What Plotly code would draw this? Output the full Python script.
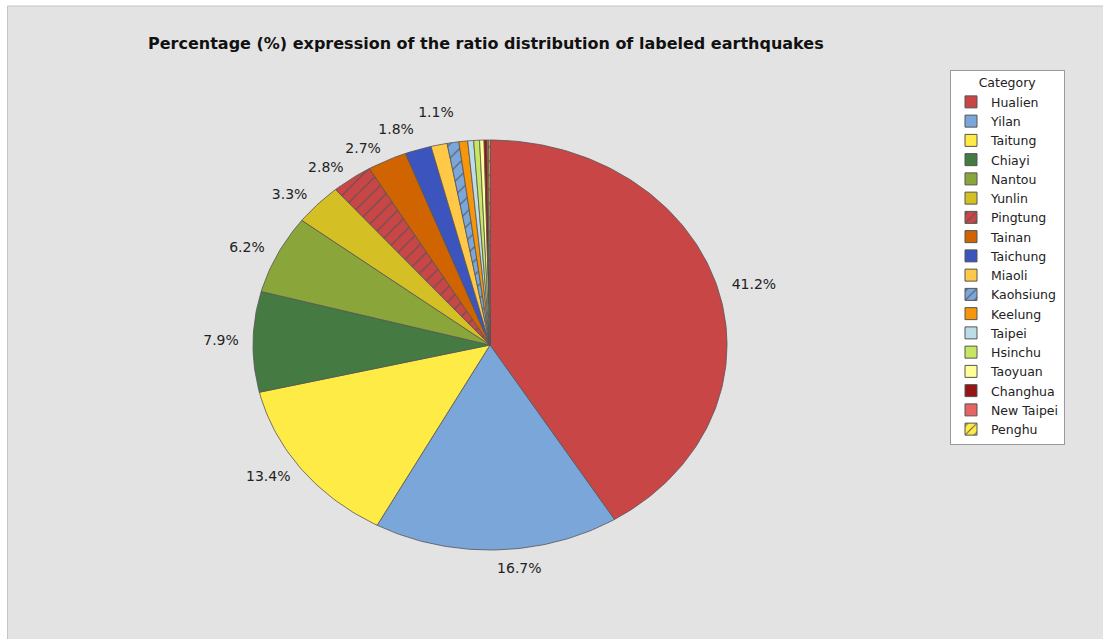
import numpy as np
import plotly.graph_objects as go

# Share of labeled earthquakes by county/city (%)
categories = ["Hualien", "Yilan", "Taitung", "Chiayi", "Nantou", "Yunlin", "Pingtung",
              "Tainan", "Taichung", "Miaoli", "Kaohsiung", "Keelung", "Taipei", "Hsinchu",
              "Taoyuan", "Changhua", "New Taipei", "Penghu"]
percentages = [41.2, 16.7, 13.4, 7.9, 6.2, 3.3, 2.8, 2.7, 1.8, 1.1,
               0.8, 0.6, 0.4, 0.4, 0.3, 0.2, 0.1, 0.1]
slice_colors = ["#c84646", "#7ba6d9", "#ffeb46", "#457a43", "#8aa63a", "#d4c024", "#c84646",
                "#cf6400", "#3c55be", "#ffc846", "#7ba6d9", "#f7960a", "#bcdce6", "#c8e664",
                "#ffff96", "#961414", "#e66464", "#ffeb46"]
hatched = ["Pingtung", "Kaohsiung", "Penghu"]
label_min = 1.0  # slices below this share are left unlabeled

W, H = 1103, 639
# pie centre (px from left / top) and its horizontal / vertical radius in px
cx, cy, rx, ry = 490, 345, 237, 205
edge = "#555555"
label_font = 14
label_h = 17  # approximate label box height in px

fig = go.Figure()

values = np.array(percentages, dtype=float)
bounds = np.concatenate([[0.0], np.cumsum(values)]) / values.sum() * 2 * np.pi

label_x, label_y, label_txt, label_pos = [], [], [], []
placed = []  # label boxes in px: (x0, x1, y0, y1), y measured upward from centre
for i, name in enumerate(categories):
    a0, a1 = bounds[i], bounds[i + 1]
    n = max(3, int(np.ceil((a1 - a0) / (2 * np.pi) * 360)))
    t = np.linspace(a0, a1, n)
    # angles run clockwise from 12 o'clock; axes are in units of the radius
    xs = np.concatenate([[0.0], np.sin(t), [0.0]])
    ys = np.concatenate([[0.0], np.cos(t), [0.0]])
    pattern = dict(shape="/", fgcolor=edge, bgcolor=slice_colors[i], size=10,
                   solidity=0.1, fillmode="replace") if name in hatched else None
    fig.add_trace(go.Scatter(
        x=xs, y=ys, mode="lines", fill="toself",
        fillcolor=slice_colors[i], fillpattern=pattern,
        line=dict(color=edge, width=0.8),
        name=name, legendgroup=name, showlegend=False,
        hoveron="fills", hoverinfo="name",
    ))
    # legend swatch for the slice
    fig.add_trace(go.Bar(
        x=[None], y=[None], name=name, legendgroup=name,
        marker=dict(color=slice_colors[i], line=dict(color=edge, width=1),
                    pattern=dict(shape="/" if name in hatched else "", fgcolor=edge,
                                 bgcolor=slice_colors[i], size=8, solidity=0.15,
                                 fillmode="replace")),
    ))
    if percentages[i] >= label_min:
        mid = (a0 + a1) / 2
        sx, cyv = np.sin(mid), np.cos(mid)
        f = 1.06
        px, py = f * sx * rx, f * cyv * ry
        txt = f"{percentages[i]:.1f}%"
        w = 0.64 * label_font * len(txt)
        vert = "top" if cyv > 0.93 else ("bottom" if cyv < -0.93 else "middle")
        if vert == "top" and abs(sx) < 0.25:
            horiz = "center"
        else:
            horiz = "right" if sx > 0 else "left"
        x0 = px - w / 2 if horiz == "center" else (px if horiz == "right" else px - w)
        y0 = py if vert == "top" else (py - label_h if vert == "bottom" else py - label_h / 2)
        # push a label outward while it collides with one already placed
        moved = True
        while moved:
            moved = False
            for bx0, bx1, by0, by1 in placed:
                if x0 < bx1 + 6 and x0 + w > bx0 - 6 and y0 < by1 and y0 + label_h > by0:
                    shift = (by1 - y0) if cyv >= 0 else -(y0 + label_h - by0)
                    y0 += shift
                    py += shift
                    moved = True
        placed.append((x0, x0 + w, y0, y0 + label_h))
        label_x.append(px / rx)
        label_y.append(py / ry)
        label_txt.append(txt)
        label_pos.append(f"{vert} {horiz}")

fig.add_trace(go.Scatter(
    x=label_x, y=label_y, text=label_txt, mode="text", textposition=label_pos,
    textfont=dict(family="DejaVu Sans", size=label_font, color="#222222"),
    showlegend=False, hoverinfo="skip",
))

fig.update_layout(
    width=W, height=H,
    margin=dict(l=0, r=0, t=0, b=0),
    paper_bgcolor="white",
    plot_bgcolor="rgba(0,0,0,0)",
    xaxis=dict(range=[-cx / rx, (W - cx) / rx], visible=False, fixedrange=True),
    yaxis=dict(range=[-(H - cy) / ry, cy / ry], visible=False, fixedrange=True),
    title=dict(text="Percentage (%) expression of the ratio distribution of labeled earthquakes",
               x=148 / W, xanchor="left", y=1 - 43 / H, yanchor="middle",
               font=dict(family="DejaVu Sans", size=16, color="#111111", weight="bold")),
    legend=dict(
        title=dict(text="Category", side="top center",
                   font=dict(family="DejaVu Sans", size=12.5, color="#222222")),
        font=dict(family="DejaVu Sans", size=12.5, color="#222222"),
        x=950 / W, y=1 - 70 / H, xanchor="left", yanchor="top",
        bgcolor="white", bordercolor="#9a9a9a", borderwidth=1,
        traceorder="normal",
    ),
    shapes=[dict(type="rect", xref="paper", yref="paper", layer="below",
                 x0=7.5 / W, x1=1.01, y0=-0.01, y1=1 - 6 / H,
                 fillcolor="#e3e3e3", line=dict(color="#c4c4c4", width=1))],
)

fig.write_html("out.html")
